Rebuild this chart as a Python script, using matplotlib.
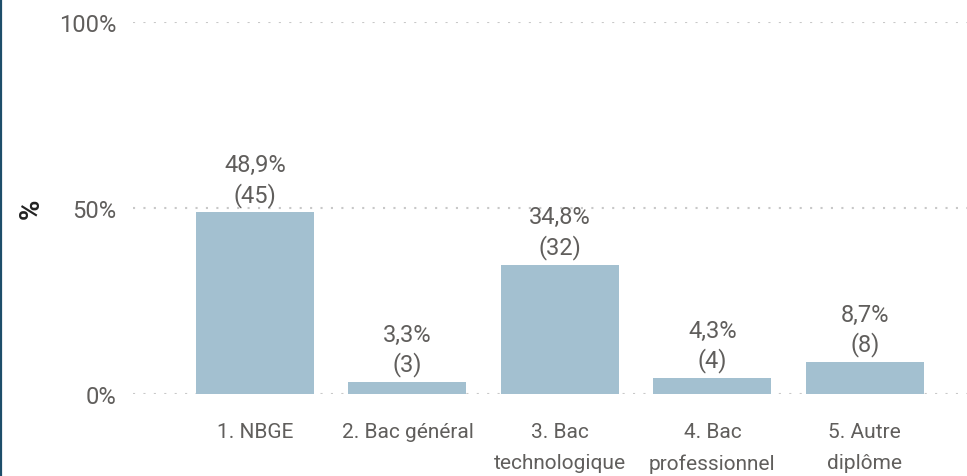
import matplotlib
matplotlib.use("Agg")
import matplotlib.pyplot as plt
from matplotlib.lines import Line2D

# data
categories = ["1. NBGE", "2. Bac général", "3. Bac\ntechnologique",
              "4. Bac\nprofessionnel", "5. Autre\ndiplôme"]
pcts = [48.9, 3.3, 34.8, 4.3, 8.7]
counts = [45, 3, 32, 4, 8]
yticks = [0, 50, 100]

plt.rcParams['font.family'] = ['Roboto', 'DejaVu Sans']
grey = "#605e5c"
fs_num = 17
fs_cat = 15

fig = plt.figure(figsize=[9.67, 4.77], dpi=100)
ax = fig.add_axes([133 / 967, 82 / 477, 1 - 133 / 967, 372 / 477])

x = range(len(categories))
ax.bar(x, pcts, width=0.774, color="#a3c0d0", zorder=2)

for i, (p, c) in enumerate(zip(pcts, counts)):
    ax.annotate("(%d)" % c, (i, p), xytext=(0, 4), textcoords="offset points",
                ha="center", va="bottom", fontsize=fs_num, color=grey)
    ax.annotate(("%.1f%%" % p).replace(".", ","), (i, p), xytext=(0, 26),
                textcoords="offset points", ha="center", va="bottom",
                fontsize=fs_num, color=grey)

ax.set_xlim(-0.8, 4.67)
ax.set_ylim(0, 100)
ax.set_yticks(yticks)
ax.set_yticklabels(["%d%%" % t for t in yticks], fontsize=fs_num, color=grey)
ax.set_xticks(list(x))
ax.set_xticklabels(categories, fontsize=fs_cat, color=grey, linespacing=1.8)
ax.tick_params(length=0)
ax.tick_params(axis="y", pad=12)
ax.tick_params(axis="x", pad=20)
ax.set_ylabel("%", fontsize=20, fontweight="bold", color="#222222", labelpad=10)

ax.grid(axis="y", color="#c8c8c8", linestyle=(0, (1, 4)), linewidth=1.5, zorder=0)
for s in ax.spines.values():
    s.set_visible(False)

# left border of the visual
fig.add_artist(Line2D([1 / 967, 1 / 967], [0, 1], color="#1d4e6a", linewidth=1.6,
                      transform=fig.transFigure))

fig.savefig("out.png", dpi=100)
